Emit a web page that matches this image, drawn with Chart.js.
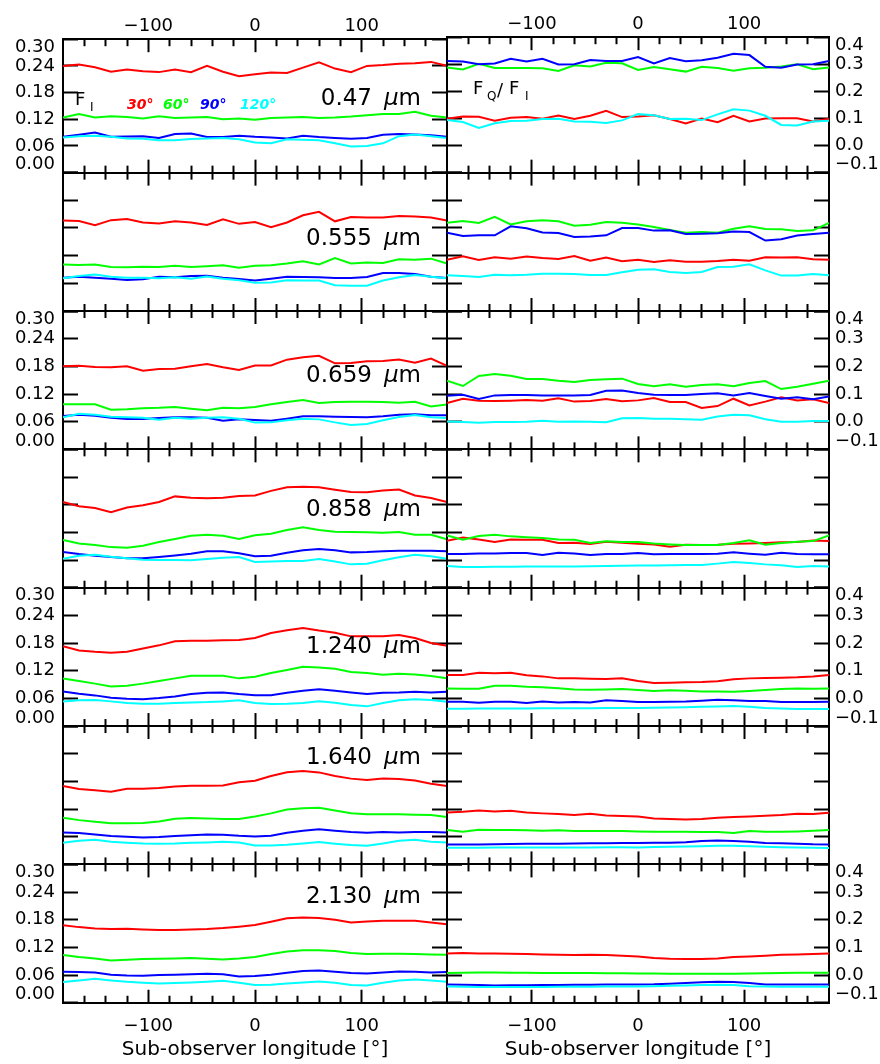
<!DOCTYPE html>
<html>
<head>
<meta charset="utf-8">
<script src="https://cdn.jsdelivr.net/npm/chart.js@4.4.1/dist/chart.umd.min.js"></script>
<style>
  html, body { margin: 0; padding: 0; background: #fff; }
  #wrap { position: relative; width: 880px; height: 1064px; }
  #wrap canvas { position: absolute; left: 0; top: 0; }
</style>
</head>
<body>
<div id="wrap"></div>
<script>
"use strict";

// sub-observer longitude, every 15 deg
var LON = [-180,-165,-150,-135,-120,-105,-90,-75,-60,-45,-30,-15,0,15,30,45,60,75,90,105,120,135,150,165,180];
var X_MAJOR = [-100, 0, 100];
var X_MINOR = [-160,-140,-120,-80,-60,-40,-20,20,40,60,80,120,140,160];
var FI_TICKS = [0, 0.06, 0.12, 0.18, 0.24, 0.30];
var POL_TICKS = [-0.1, 0, 0.1, 0.2, 0.3, 0.4];
var WAVES = ['0.47', '0.555', '0.659', '0.858', '1.240', '1.640', '2.130'];
var ANGLES = ['30°', '60°', '90°', '120°'];

// F_I, 0.47 um
var fi470_30 = [0.240,0.243,0.237,0.227,0.232,0.228,0.226,0.232,0.226,0.240,0.227,0.217,0.221,0.225,0.224,0.236,0.248,0.234,0.226,0.240,0.242,0.245,0.246,0.249,0.240];
var fi470_60 = [0.124,0.132,0.124,0.127,0.125,0.122,0.127,0.123,0.124,0.125,0.120,0.122,0.119,0.123,0.124,0.125,0.123,0.124,0.126,0.129,0.132,0.132,0.137,0.128,0.124];
var fi470_90 = [0.0805,0.085,0.090,0.0805,0.081,0.082,0.078,0.087,0.088,0.080,0.080,0.083,0.0805,0.079,0.077,0.083,0.080,0.078,0.076,0.078,0.085,0.087,0.086,0.084,0.0805];
var fi470_120 = [0.079,0.082,0.083,0.0805,0.077,0.076,0.073,0.073,0.0755,0.077,0.078,0.075,0.068,0.066,0.075,0.074,0.073,0.066,0.059,0.060,0.066,0.082,0.086,0.082,0.078];
// F_Q/F_I, 0.47 um
var pol470_30 = [0.099,0.107,0.106,0.092,0.103,0.105,0.099,0.111,0.098,0.110,0.128,0.105,0.107,0.112,0.098,0.082,0.100,0.086,0.110,0.089,0.100,0.101,0.101,0.089,0.099];
var pol470_60 = [0.288,0.281,0.302,0.286,0.286,0.286,0.285,0.275,0.296,0.292,0.306,0.304,0.279,0.290,0.282,0.273,0.291,0.286,0.276,0.285,0.287,0.292,0.300,0.282,0.288];
var pol470_90 = [0.312,0.310,0.300,0.303,0.320,0.310,0.320,0.299,0.300,0.316,0.312,0.312,0.327,0.303,0.323,0.311,0.315,0.324,0.339,0.334,0.291,0.287,0.299,0.300,0.312];
var pol470_120 = [0.094,0.087,0.065,0.082,0.091,0.092,0.098,0.099,0.089,0.088,0.083,0.093,0.116,0.112,0.098,0.099,0.094,0.115,0.134,0.129,0.110,0.076,0.074,0.089,0.092];

// 0.555 um
var fi555_30 = [0.196,0.195,0.186,0.197,0.1995,0.192,0.190,0.1945,0.192,0.1865,0.199,0.189,0.193,0.1815,0.192,0.2075,0.215,0.1945,0.204,0.203,0.203,0.206,0.205,0.2025,0.196];
var fi555_60 = [0.101,0.100,0.101,0.0955,0.095,0.096,0.0955,0.098,0.0955,0.097,0.099,0.094,0.098,0.099,0.103,0.108,0.101,0.115,0.103,0.105,0.104,0.112,0.111,0.1135,0.103];
var fi555_90 = [0.0723,0.0745,0.0723,0.070,0.067,0.0687,0.0745,0.073,0.076,0.0766,0.0723,0.0694,0.066,0.070,0.0745,0.0737,0.073,0.0716,0.0716,0.0737,0.0824,0.0824,0.080,0.0745,0.0716];
var fi555_120 = [0.071,0.076,0.079,0.0745,0.0723,0.0723,0.071,0.073,0.070,0.075,0.070,0.0665,0.0615,0.062,0.0665,0.066,0.066,0.056,0.055,0.055,0.066,0.073,0.078,0.0745,0.071];
var pol555_30 = [0.0855,0.0975,0.084,0.094,0.089,0.0965,0.0915,0.088,0.099,0.082,0.093,0.0795,0.0855,0.077,0.083,0.078,0.078,0.0805,0.0855,0.082,0.094,0.093,0.094,0.087,0.0855];
var pol555_60 = [0.219,0.225,0.218,0.240,0.213,0.224,0.228,0.224,0.2085,0.212,0.222,0.219,0.213,0.2035,0.193,0.183,0.1855,0.183,0.1975,0.206,0.1965,0.195,0.189,0.1915,0.218];
var pol555_90 = [0.183,0.171,0.1735,0.1735,0.206,0.199,0.184,0.182,0.1675,0.169,0.1735,0.200,0.200,0.1905,0.1915,0.178,0.1795,0.181,0.187,0.1855,0.1545,0.159,0.1725,0.178,0.183];
var pol555_120 = [0.029,0.0265,0.023,0.031,0.029,0.031,0.035,0.035,0.034,0.030,0.030,0.040,0.049,0.0505,0.041,0.037,0.041,0.059,0.060,0.0685,0.047,0.028,0.028,0.034,0.029];

// 0.659 um
var fi659_30 = [0.180,0.1815,0.1786,0.178,0.180,0.1706,0.174,0.175,0.180,0.185,0.178,0.172,0.182,0.182,0.1945,0.1995,0.203,0.1865,0.187,0.191,0.1915,0.195,0.188,0.197,0.181];
var fi659_60 = [0.0976,0.0976,0.0976,0.086,0.0868,0.089,0.090,0.092,0.088,0.0846,0.090,0.089,0.092,0.098,0.1027,0.107,0.1005,0.1027,0.103,0.103,0.1027,0.101,0.103,0.093,0.097];
var fi659_90 = [0.0723,0.075,0.073,0.0687,0.0658,0.0658,0.068,0.0694,0.0694,0.0687,0.062,0.065,0.0636,0.062,0.0665,0.0716,0.0716,0.0708,0.070,0.0694,0.0716,0.075,0.076,0.0737,0.0737];
var fi659_120 = [0.0694,0.077,0.075,0.0708,0.0694,0.0687,0.0643,0.0687,0.0665,0.0687,0.0694,0.0665,0.058,0.0585,0.063,0.0665,0.065,0.0585,0.053,0.055,0.063,0.070,0.0745,0.0694,0.068];
var pol659_30 = [0.0675,0.083,0.076,0.0745,0.076,0.0785,0.076,0.0845,0.0725,0.0745,0.082,0.0735,0.077,0.0855,0.071,0.071,0.0495,0.0565,0.083,0.059,0.0725,0.088,0.077,0.081,0.0675];
var pol659_60 = [0.148,0.129,0.165,0.172,0.166,0.154,0.154,0.148,0.1435,0.1505,0.153,0.1555,0.136,0.128,0.135,0.1265,0.1325,0.135,0.128,0.140,0.147,0.118,0.1265,0.137,0.148];
var pol659_90 = [0.094,0.0975,0.082,0.095,0.0965,0.0965,0.095,0.095,0.095,0.0965,0.112,0.113,0.1035,0.0975,0.0965,0.0965,0.100,0.1025,0.095,0.1035,0.093,0.083,0.088,0.081,0.0915];
var pol659_120 = [0.001,-0.001,-0.0036,-0.001,-0.001,0.0,0.0036,0.0,0.001,0.0,-0.0024,0.012,0.013,0.011,0.011,0.0085,0.007,0.019,0.025,0.023,0.0085,0.0,0.0,0.0025,0.0025];

// 0.858 um
var fi858_30 = [0.186,0.1765,0.173,0.1635,0.174,0.1786,0.186,0.198,0.195,0.194,0.195,0.199,0.200,0.210,0.218,0.219,0.218,0.2125,0.2075,0.207,0.211,0.213,0.200,0.1945,0.186];
var fi858_60 = [0.1034,0.096,0.0925,0.088,0.0868,0.091,0.099,0.1056,0.1128,0.115,0.1128,0.1056,0.1135,0.117,0.125,0.131,0.125,0.1215,0.1207,0.120,0.119,0.1207,0.115,0.115,0.105];
var fi858_90 = [0.0774,0.073,0.0694,0.0665,0.0636,0.0636,0.0665,0.070,0.0737,0.079,0.079,0.0745,0.068,0.0694,0.076,0.081,0.084,0.081,0.0766,0.0774,0.079,0.080,0.080,0.080,0.079];
var fi858_120 = [0.063,0.0694,0.0716,0.067,0.0636,0.0607,0.060,0.060,0.0593,0.062,0.065,0.0665,0.0557,0.057,0.058,0.058,0.062,0.057,0.0506,0.052,0.0593,0.0658,0.0716,0.068,0.063];
var pol858_30 = [0.070,0.081,0.0745,0.065,0.0745,0.0735,0.0735,0.0615,0.0625,0.058,0.066,0.0625,0.059,0.0565,0.048,0.0555,0.054,0.0555,0.059,0.060,0.0615,0.064,0.065,0.071,0.0685];
var pol858_60 = [0.089,0.0735,0.087,0.0915,0.0855,0.082,0.0795,0.0745,0.0735,0.0615,0.0675,0.065,0.065,0.060,0.0565,0.054,0.054,0.054,0.0615,0.071,0.0555,0.0615,0.066,0.0685,0.089];
var pol858_90 = [0.0217,0.0217,0.024,0.024,0.025,0.025,0.018,0.0265,0.024,0.018,0.0217,0.0217,0.025,0.0205,0.0217,0.0217,0.0217,0.023,0.0277,0.023,0.019,0.0265,0.0217,0.0205,0.0205];
var pol858_120 = [-0.0217,-0.0253,-0.0253,-0.024,-0.024,-0.0235,-0.023,-0.0235,-0.023,-0.0225,-0.022,-0.021,-0.020,-0.0195,-0.019,-0.018,-0.018,-0.013,-0.007,-0.011,-0.0157,-0.019,-0.0253,-0.0217,-0.023];

// 1.240 um
var fi1240_30 = [0.173,0.164,0.161,0.159,0.161,0.168,0.175,0.184,0.185,0.185,0.186,0.1865,0.191,0.2017,0.2075,0.2126,0.207,0.2024,0.1945,0.1945,0.1945,0.1974,0.191,0.180,0.174];
var fi1240_60 = [0.1034,0.0976,0.092,0.086,0.0875,0.092,0.0976,0.1034,0.109,0.109,0.109,0.1034,0.107,0.115,0.1215,0.1287,0.127,0.124,0.117,0.115,0.111,0.1135,0.112,0.1085,0.1034];
var fi1240_90 = [0.075,0.070,0.0665,0.0615,0.059,0.058,0.0607,0.0643,0.0694,0.0723,0.073,0.0694,0.067,0.067,0.0723,0.0766,0.080,0.0766,0.073,0.0694,0.0723,0.073,0.0745,0.073,0.0745];
var fi1240_120 = [0.0535,0.0557,0.0564,0.0535,0.050,0.0484,0.0484,0.050,0.0513,0.052,0.0535,0.0557,0.050,0.0477,0.0484,0.050,0.0535,0.0506,0.0455,0.0427,0.050,0.0557,0.058,0.0564,0.0528];
var pol1240_30 = [0.0844,0.0844,0.0928,0.0904,0.0928,0.0832,0.0795,0.0723,0.0723,0.071,0.070,0.0723,0.0627,0.0555,0.0567,0.058,0.059,0.0615,0.0687,0.0723,0.0735,0.0747,0.076,0.0795,0.0844];
var pol1240_60 = [0.036,0.035,0.035,0.0458,0.0458,0.042,0.040,0.037,0.0325,0.031,0.0325,0.0337,0.030,0.0265,0.029,0.0277,0.0253,0.0253,0.024,0.0265,0.030,0.0337,0.036,0.035,0.036];
var pol1240_90 = [-0.012,-0.012,-0.0157,-0.012,-0.012,-0.017,-0.011,-0.0145,-0.013,-0.0145,-0.007,-0.0096,-0.013,-0.013,-0.012,-0.011,-0.0084,-0.0048,-0.007,-0.0096,-0.0096,-0.013,-0.013,-0.013,-0.012];
var pol1240_120 = [-0.0373,-0.0373,-0.037,-0.037,-0.0365,-0.0365,-0.036,-0.036,-0.0355,-0.0355,-0.035,-0.035,-0.035,-0.034,-0.033,-0.032,-0.030,-0.029,-0.0277,-0.030,-0.035,-0.037,-0.0385,-0.0385,-0.0385];

// 1.640 um
var fi1640_30 = [0.170,0.1634,0.161,0.1576,0.164,0.164,0.1656,0.169,0.1706,0.1706,0.171,0.178,0.1815,0.1916,0.200,0.2024,0.1995,0.1916,0.186,0.183,0.186,0.185,0.182,0.175,0.170];
var fi1640_60 = [0.101,0.096,0.0925,0.089,0.089,0.090,0.093,0.099,0.1005,0.0998,0.0983,0.0983,0.104,0.1106,0.119,0.122,0.123,0.117,0.111,0.109,0.1085,0.1085,0.1077,0.107,0.1027];
var fi1640_90 = [0.0694,0.068,0.065,0.0614,0.060,0.0585,0.0593,0.0614,0.063,0.065,0.0643,0.062,0.0607,0.062,0.0687,0.073,0.076,0.073,0.070,0.0687,0.070,0.0694,0.070,0.070,0.0694];
var fi1640_120 = [0.047,0.0513,0.0535,0.049,0.047,0.0455,0.0448,0.0455,0.047,0.0477,0.049,0.0477,0.041,0.041,0.0426,0.0455,0.0484,0.0448,0.0419,0.0405,0.0455,0.0513,0.0535,0.049,0.0477];
var pol1640_30 = [0.088,0.0904,0.0952,0.0916,0.094,0.088,0.0844,0.082,0.0783,0.083,0.077,0.0747,0.0735,0.0663,0.064,0.0627,0.064,0.0687,0.071,0.0735,0.076,0.0783,0.083,0.082,0.0868];
var pol1640_60 = [0.024,0.018,0.0253,0.024,0.024,0.023,0.0217,0.023,0.0205,0.0205,0.0205,0.0205,0.0193,0.018,0.018,0.018,0.0169,0.0169,0.0133,0.0205,0.018,0.018,0.0193,0.0217,0.024];
var pol1640_90 = [-0.0277,-0.0277,-0.0277,-0.027,-0.026,-0.0255,-0.025,-0.025,-0.0245,-0.024,-0.0235,-0.023,-0.023,-0.022,-0.0217,-0.020,-0.0157,-0.0132,-0.0157,-0.018,-0.023,-0.024,-0.025,-0.027,-0.0277];
var pol1640_120 = [-0.0398,-0.0398,-0.0395,-0.039,-0.039,-0.039,-0.0388,-0.0388,-0.0385,-0.0385,-0.038,-0.038,-0.0385,-0.037,-0.036,-0.035,-0.034,-0.033,-0.0325,-0.034,-0.0365,-0.038,-0.039,-0.040,-0.041];

// 2.130 um
var fi2130_30 = [0.168,0.164,0.161,0.160,0.1605,0.159,0.158,0.158,0.159,0.160,0.162,0.165,0.1685,0.1757,0.183,0.185,0.1836,0.180,0.174,0.1764,0.178,0.178,0.178,0.174,0.170];
var fi2130_60 = [0.1034,0.099,0.096,0.0918,0.0933,0.0947,0.0954,0.096,0.097,0.0954,0.094,0.096,0.099,0.1056,0.1113,0.114,0.114,0.112,0.1077,0.1056,0.106,0.106,0.1056,0.1048,0.104];
var fi2130_90 = [0.067,0.0665,0.0658,0.0607,0.059,0.0585,0.060,0.0607,0.062,0.063,0.062,0.057,0.058,0.0607,0.065,0.0687,0.070,0.067,0.0643,0.0636,0.0658,0.068,0.067,0.0658,0.0665];
var fi2130_120 = [0.0448,0.0484,0.052,0.0484,0.0455,0.0434,0.042,0.0427,0.044,0.0455,0.0477,0.0434,0.0383,0.039,0.042,0.044,0.0463,0.0434,0.0383,0.0376,0.0434,0.0484,0.0506,0.0484,0.0455];
var pol2130_30 = [0.0783,0.0795,0.0783,0.0783,0.077,0.076,0.0747,0.0735,0.0723,0.0735,0.0723,0.070,0.0675,0.0615,0.059,0.0578,0.0578,0.060,0.065,0.0675,0.070,0.0735,0.0747,0.076,0.0783];
var pol2130_60 = [0.0072,0.008,0.0097,0.009,0.0085,0.008,0.0075,0.0075,0.0072,0.0072,0.007,0.0065,0.006,0.0055,0.005,0.0048,0.0048,0.0048,0.005,0.006,0.007,0.0075,0.008,0.0085,0.0085];
var pol2130_90 = [-0.0337,-0.035,-0.036,-0.0373,-0.037,-0.0365,-0.036,-0.036,-0.035,-0.0345,-0.034,-0.034,-0.0337,-0.033,-0.031,-0.029,-0.026,-0.024,-0.0253,-0.029,-0.0337,-0.0337,-0.0337,-0.0337,-0.0337];
var pol2130_120 = [-0.041,-0.042,-0.043,-0.0434,-0.0434,-0.043,-0.043,-0.0425,-0.042,-0.042,-0.041,-0.041,-0.041,-0.040,-0.039,-0.038,-0.036,-0.035,-0.036,-0.040,-0.041,-0.042,-0.042,-0.042,-0.042];

var FI = [
    [fi470_30, fi470_60, fi470_90, fi470_120],
    [fi555_30, fi555_60, fi555_90, fi555_120],
    [fi659_30, fi659_60, fi659_90, fi659_120],
    [fi858_30, fi858_60, fi858_90, fi858_120],
    [fi1240_30, fi1240_60, fi1240_90, fi1240_120],
    [fi1640_30, fi1640_60, fi1640_90, fi1640_120],
    [fi2130_30, fi2130_60, fi2130_90, fi2130_120]
];
var POL = [
    [pol470_30, pol470_60, pol470_90, pol470_120],
    [pol555_30, pol555_60, pol555_90, pol555_120],
    [pol659_30, pol659_60, pol659_90, pol659_120],
    [pol858_30, pol858_60, pol858_90, pol858_120],
    [pol1240_30, pol1240_60, pol1240_90, pol1240_120],
    [pol1640_30, pol1640_60, pol1640_90, pol1640_120],
    [pol2130_30, pol2130_60, pol2130_90, pol2130_120]
];

// layout / style
var COLORS = ['#ff0000', '#00ff00', '#0000ff', '#00ffff'];
var FONT = '"DejaVu Sans", sans-serif';
var COL_X = [[63, 447], [447, 829]];
var ROW_TOP = 34.3, ROW_H = 138.35;
var W = 880, H = 1064;
var WAVE_Y = [57, 64, 63, 58, 57, 30, 30];

function minus(s) { return s.replace('-', '\u2212'); }

var panelText = {
    id: 'panelText',
    afterDatasetsDraw: function (chart, args, o) {
        var ctx = chart.ctx, a = chart.chartArea;
        ctx.save();
        ctx.fillStyle = '#000';
        ctx.textAlign = 'left';
        ctx.textBaseline = 'alphabetic';
        if (o.col === 0) {
            var base = a.top + WAVE_Y[o.row] + 8.4;
            var num = WAVES[o.row];
            ctx.font = '23px ' + FONT;
            var wNum = ctx.measureText(num).width, wM = ctx.measureText('m').width;
            ctx.font = 'italic 23px ' + FONT;
            var wMu = ctx.measureText('\u03bc').width;
            var x = a.right - 26 - wM - wMu - 12 - wNum;
            ctx.font = '23px ' + FONT;
            ctx.fillText(num, x, base);
            ctx.font = 'italic 23px ' + FONT;
            ctx.fillText('\u03bc', x + wNum + 12, base);
            ctx.font = '23px ' + FONT;
            ctx.fillText('m', x + wNum + 12 + wMu, base);
            if (o.row === 0) {
                ctx.font = '18px ' + FONT;
                ctx.fillText('F', a.left + 12, a.top + 65.7);
                ctx.font = '12px ' + FONT;
                ctx.fillText('I', a.left + 27, a.top + 72);
                var lx = [127, 163, 200, 240];
                ctx.font = 'italic bold 14px ' + FONT;
                ANGLES.forEach(function (t, k) {
                    ctx.fillStyle = COLORS[k];
                    ctx.fillText(t, lx[k], a.top + 69.7);
                });
            }
        } else if (o.row === 0) {
            var b = a.top + 56.5;
            ctx.font = '18px ' + FONT;
            ctx.fillText('F', a.left + 26, b);
            ctx.fillText('/', a.left + 50, b + 2);
            ctx.fillText('F', a.left + 62, b);
            ctx.font = '12px ' + FONT;
            ctx.fillText('Q', a.left + 40, b + 6);
            ctx.fillText('I', a.left + 78, b + 6);
        }
        ctx.restore();
    }
};

function xScale(pos, vals, len, weight, size, showLabels, title) {
    return {
        type: 'linear', position: pos, min: -180, max: 180, weight: weight,
        afterBuildTicks: function (s) { s.ticks = vals.map(function (v) { return { value: v }; }); },
        afterFit: function (s) { s.height = size; },
        grid: { drawOnChartArea: false, drawTicks: true, tickLength: len, tickWidth: 2, tickColor: '#000' },
        border: { display: true, color: '#000', width: 2 },
        ticks: {
            display: showLabels, autoSkip: false, maxRotation: 0, minRotation: 0,
            padding: pos === 'top' ? 15 : 26, color: '#000',
            font: { family: FONT, size: 18 },
            callback: function (v) { return minus(String(v)); }
        },
        title: {
            display: !!title, text: title || '', color: '#000',
            font: { family: FONT, size: 20 }, padding: { top: 0, bottom: 2 }
        }
    };
}

function yScale(pos, col, size, showLabels) {
    var vals = col ? POL_TICKS : FI_TICKS;
    return {
        type: 'linear', position: pos, min: vals[0], max: vals[vals.length - 1],
        afterBuildTicks: function (s) { s.ticks = vals.map(function (v) { return { value: v }; }); },
        afterFit: function (s) { s.width = size; },
        grid: { drawOnChartArea: false, drawTicks: true, tickLength: -15, tickWidth: 2, tickColor: '#000' },
        border: { display: true, color: '#000', width: 2 },
        ticks: {
            display: showLabels, autoSkip: false, color: '#000',
            padding: pos === 'left' ? 23 : 21,
            font: { family: FONT, size: 18, lineHeight: 0.9 },
            callback: function (v, i, arr) {
                var s = minus(v.toFixed(col ? 1 : 2));
                if (i === arr.length - 1) return ['', s];
                if (i === 0) return [s, ''];
                return s;
            }
        }
    };
}

function build(row, col) {
    var cv = document.createElement('canvas');
    cv.width = W; cv.height = H;
    cv.style.width = W + 'px'; cv.style.height = H + 'px';
    document.getElementById('wrap').appendChild(cv);

    var left = COL_X[col][0], right = COL_X[col][1];
    var top = ROW_TOP + row * ROW_H, bottom = top + ROW_H;
    var series = col ? POL[row] : FI[row];

    var myChart = new Chart(cv.getContext('2d'), {
        type: 'line',
        data: {
            datasets: series.map(function (arr, k) {
                return {
                    label: ANGLES[k],
                    data: LON.map(function (x, i) { return { x: x, y: arr[i] }; }),
                    borderColor: COLORS[k],
                    borderWidth: 2,
                    pointRadius: 0,
                    tension: 0,
                    fill: false,
                    order: 3 - k,
                    xAxisID: 'xb',
                    yAxisID: 'yl'
                };
            })
        },
        options: {
            responsive: false,
            animation: false,
            devicePixelRatio: 1,
            events: [],
            layout: { padding: 0, autoPadding: false },
            plugins: {
                legend: { display: false },
                tooltip: { enabled: false },
                panelText: { row: row, col: col }
            },
            scales: {
                xtm: xScale('top', X_MINOR, -7, 0, 0, false),
                xt: xScale('top', X_MAJOR, -13, 1, top, row === 0),
                xbm: xScale('bottom', X_MINOR, -7, 0, 0, false),
                xb: xScale('bottom', X_MAJOR, -13, 1, H - bottom, row === 6,
                    row === 6 ? 'Sub-observer longitude [°]' : ''),
                yl: yScale('left', col, left, col === 0 && row % 2 === 0),
                yr: yScale('right', col, W - right, col === 1 && row % 2 === 0)
            }
        },
        plugins: [panelText]
    });
    return myChart;
}

for (var r = 0; r < 7; r++) {
    for (var c = 0; c < 2; c++) build(r, c);
}
</script>
</body>
</html>
